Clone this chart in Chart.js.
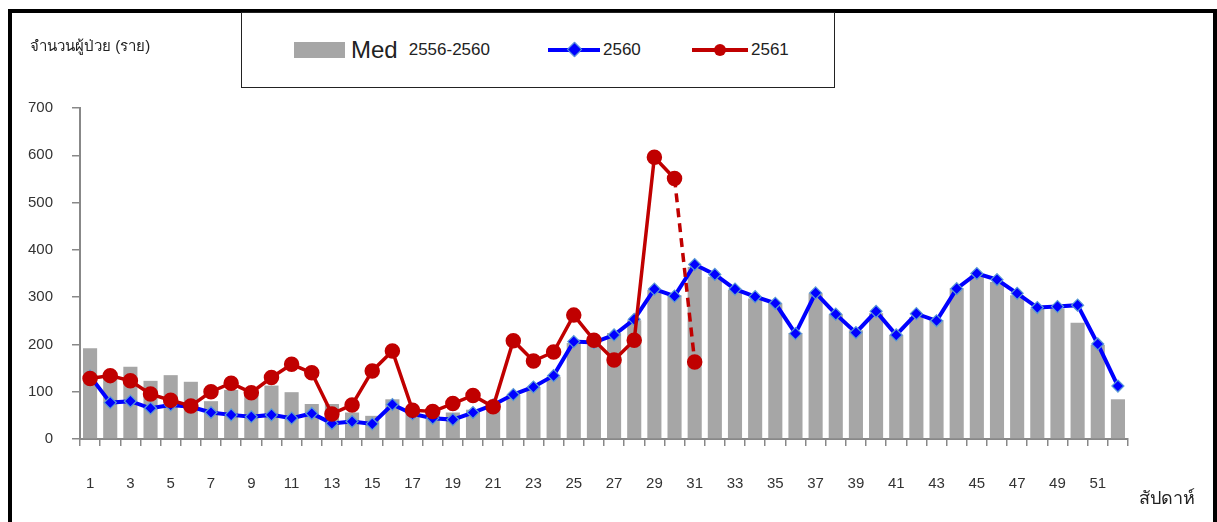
<!DOCTYPE html>
<html>
<head>
  <meta charset="UTF-8">
  <title>Weekly patients</title>
  <style>
    html, body { margin: 0; padding: 0; background: #fff; }
    body { width: 1217px; height: 522px; position: relative; overflow: hidden; font-family: "Liberation Sans", "Noto Sans", sans-serif; }
    .frame { position: absolute; left: 8px; top: 9px; width: 1201px; height: 600px; border: 4px solid #000; }
    .chart-box { position: absolute; left: 0; top: 0; width: 1217px; height: 522px; }
    .legend { position: absolute; left: 241px; top: 12px; width: 592px; height: 74px; border: 1.5px solid #222; background: #fff; }
    .legend .item { position: absolute; top: 24px; height: 26px; display: flex; align-items: center; color: #222; }
    .swatch-bar { width: 51px; height: 16px; background: #a6a6a6; margin-right: 6px; }
    .swatch-line { position: relative; width: 52px; height: 4px; margin-right: 3px; }
    .swatch-line .mk { position: absolute; }
    .big { font-size: 24px; margin-right: 11px; }
    .small { font-size: 17px; }
    .ytitle { position: absolute; left: 30px; top: 34px; font-size: 15px; color: #222; }
    .xtitle { position: absolute; left: 1139px; top: 483px; font-size: 18px; color: #222; }
  </style>
</head>
<body>
  <div class="chart-box"><canvas id="chart" width="1217" height="522"></canvas></div>
  <div class="frame"></div>
  <div class="legend">
    <div class="item" style="left:52px"><div class="swatch-bar"></div><span class="big">Med</span><span class="small">2556-2560</span></div>
    <div class="item" style="left:306px"><div class="swatch-line" style="background:#0000ff"><div class="mk" style="background:#0000ff;border:1px solid #5b9bd5;transform:rotate(45deg);width:9px;height:9px;left:21px;top:-4px"></div></div><span class="small">2560</span></div>
    <div class="item" style="left:450px"><div class="swatch-line" style="background:#c00000;width:56px"><div class="mk" style="background:#c00000;border-radius:50%;width:12px;height:12px;left:22px;top:-4px"></div></div><span class="small">2561</span></div>
  </div>
  <div class="ytitle">จำนวนผู้ป่วย (ราย)</div>
  <div class="xtitle">สัปดาห์</div>

  <script src="https://cdn.jsdelivr.net/npm/chart.js"></script>
  <script>
    const weeks = [];
    for (let w = 1; w <= 52; w++) weeks.push(String(w));

    const median = [192, 131, 153, 123, 135, 121, 80, 104, 100, 113, 99, 74, 74, 56, 49, 84, 65, 57, 56, 62,
      76, 93, 110, 132, 203, 203, 224, 251, 315, 304, 364, 343, 315, 297, 287, 224, 308, 264, 230, 266,
      220, 258, 251, 319, 346, 332, 304, 276, 276, 246, 199, 84];

    const y2560 = [133, 77, 80, 65, 72, 68, 56, 51, 47, 51, 44, 54, 33, 37, 32, 73, 53, 44, 41, 56,
      72, 94, 110, 134, 206, 204, 220, 253, 317, 302, 369, 348, 317, 301, 287, 223, 309, 264, 225, 270,
      220, 265, 250, 318, 350, 337, 308, 278, 280, 283, 201, 112];

    const y2561 = [128, 134, 123, 95, 82, 70, 100, 118, 98, 130, 158, 140, 53, 72, 144, 186, 61, 58, 75, 92,
      68, 208, 165, 184, 262, 209, 167, 209, 596, 551, 163];

    const yTicks = [0, 100, 200, 300, 400, 500, 600, 700];

    const axisGrey = "#888888";

    new Chart(document.getElementById("chart"), {
      data: {
        labels: weeks,
        datasets: [
          {
            type: "line",
            label: "2561",
            data: y2561,
            borderColor: "#c00000",
            backgroundColor: "#c00000",
            borderWidth: 3.5,
            pointRadius: 6,
            pointStyle: "circle",
            pointBackgroundColor: "#c00000",
            pointBorderColor: "#c00000",
            tension: 0,
            order: 0,
            segment: {
              // last week is still incomplete -> dashed
              borderDash: ctx => ctx.p0DataIndex === 29 ? [9, 6] : undefined,
            },
          },
          {
            type: "line",
            label: "2560",
            data: y2560,
            borderColor: "#0000ff",
            backgroundColor: "#0000ff",
            borderWidth: 4,
            pointRadius: 6,
            pointStyle: "rectRot",
            pointBackgroundColor: "#0000ff",
            pointBorderColor: "#5b9bd5",
            pointBorderWidth: 1.2,
            tension: 0,
            order: 1,
          },
          {
            type: "bar",
            label: "Med 2556-2560",
            data: median,
            backgroundColor: "#a6a6a6",
            barPercentage: 0.7,
            categoryPercentage: 1,
            order: 2,
          },
        ],
      },
      options: {
        responsive: false,
        animation: false,
        layout: { padding: { left: 0, right: 89, top: 108, bottom: 0 } },
        plugins: { legend: { display: false }, tooltip: { enabled: false } },
        scales: {
          x: {
            type: "category",
            offset: true,
            afterFit: s => { s.height = 83; },
            border: { color: axisGrey, width: 2 },
            grid: { offset: true, drawOnChartArea: false, color: axisGrey, tickLength: 7, lineWidth: 1.5 },
            ticks: {
              autoSkip: false,
              maxRotation: 0,
              padding: 29,
              color: "#333",
              font: { family: "Liberation Sans", size: 15 },
              callback: (v, i) => (i % 2 === 0 ? weeks[i] : ""),
            },
          },
          y: {
            min: 0,
            max: 700,
            afterFit: s => { s.width = 80; },
            afterBuildTicks: s => { s.ticks = yTicks.map(v => ({ value: v })); },
            border: { color: axisGrey, width: 2 },
            grid: { drawOnChartArea: false, color: axisGrey, tickLength: 8, lineWidth: 1.5 },
            ticks: {
              padding: 19,
              color: "#333",
              font: { family: "Liberation Sans", size: 15 },
            },
          },
        },
      },
    });
  </script>
</body>
</html>
